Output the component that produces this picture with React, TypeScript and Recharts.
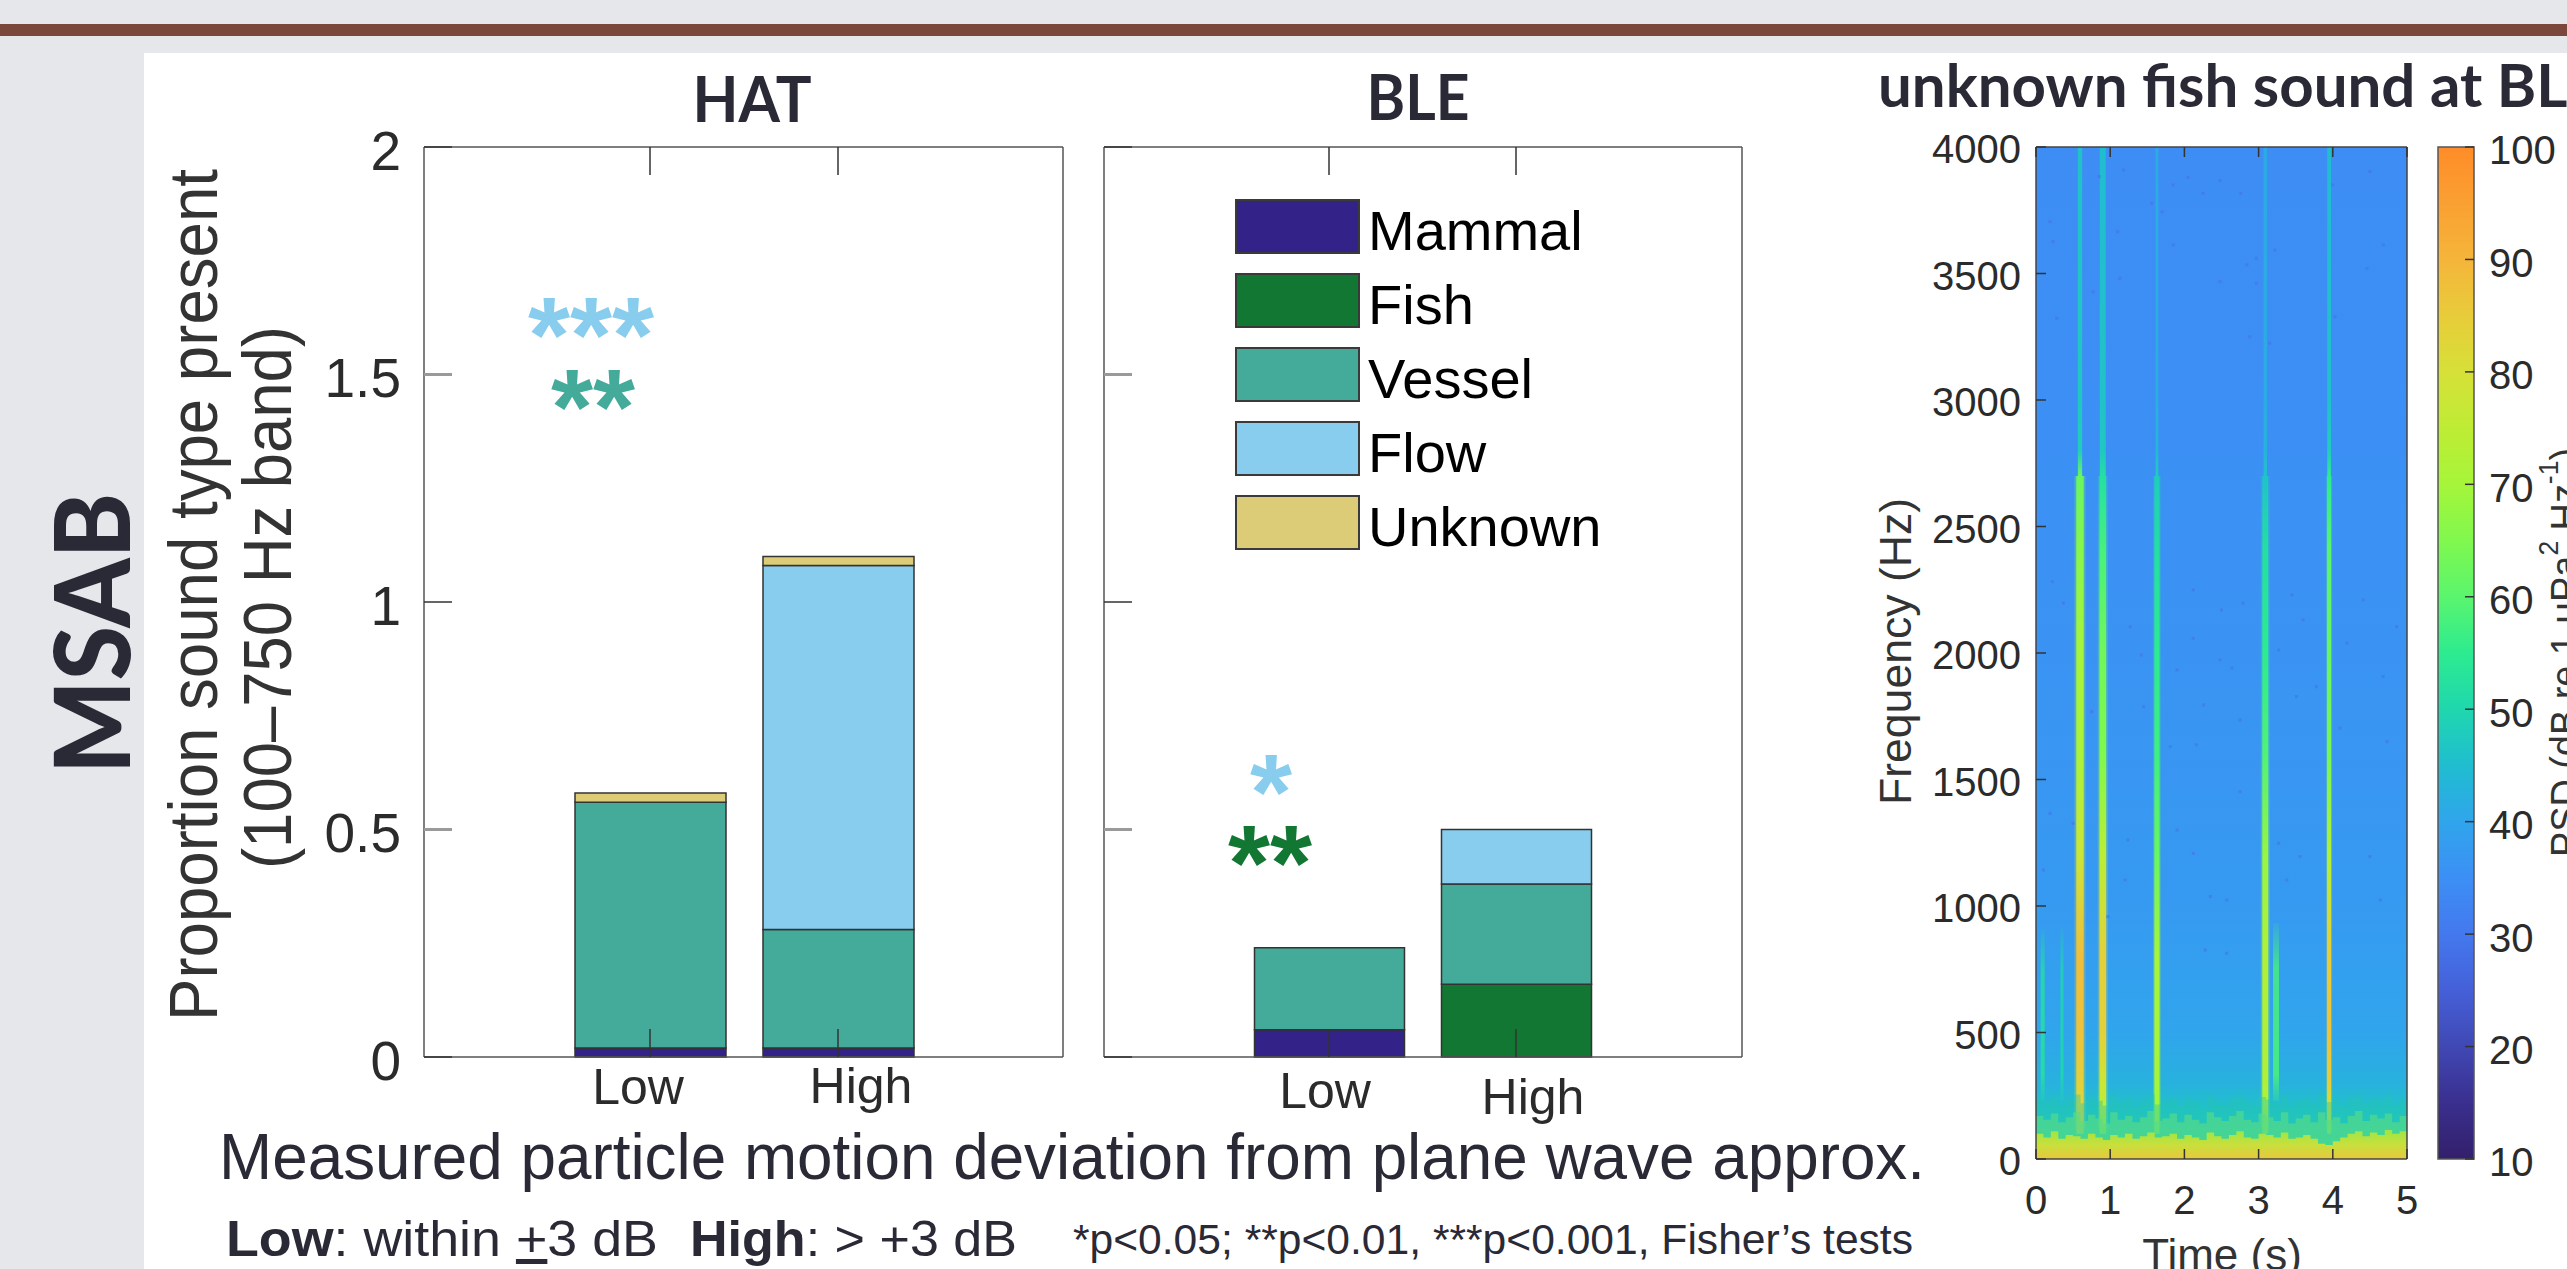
import React from 'react';
import { Area, Bar, BarChart, ComposedChart, Legend, ReferenceArea, Scatter, XAxis, YAxis } from 'recharts';

// stacked bars (proportion of sound type present)
const categories = ['Low', 'High'];
const seriesNames = ['Mammal', 'Fish', 'Vessel', 'Flow', 'Unknown'];
const seriesColors = ['#332288', '#117733', '#44AA99', '#88CCEE', '#DDCC77'];
const hatMammal = [0.02, 0.02];
const hatFish = [0, 0];
const hatVessel = [0.54, 0.26];
const hatFlow = [0, 0.8];
const hatUnknown = [0.02, 0.02];
const bleMammal = [0.06, 0];
const bleFish = [0, 0.16];
const bleVessel = [0.18, 0.22];
const bleFlow = [0, 0.12];
const bleUnknown = [0, 0];
const proportionTicks = [0, 0.5, 1, 1.5, 2];
const fadedTicks = [0.5, 1.5];

// spectrogram
const timeTicks = [0, 1, 2, 3, 4, 5];
const freqTicks = [0, 500, 1000, 1500, 2000, 2500, 3000, 3500, 4000];
const psdTicks = [10, 20, 30, 40, 50, 60, 70, 80, 90, 100];
const cmapDb = [10, 15, 20, 25, 30, 35, 40, 45, 50, 55, 60, 65, 70, 75, 80, 85, 90, 95, 100];
const cmapColors = ['#33206B', '#3A2F8E', '#4048B4', '#4560D8', '#4478EE', '#3C8FF5', '#30A5EC', '#20BDD0', '#1FD7AE', '#2DEB90', '#5AF56E', '#80F84E', '#A6F53A', '#BEEC34', '#D6E038', '#E8CC3A', '#F5B53A', '#FAA032', '#FF8C28'];
const backgroundFreq = [0, 200, 300, 500, 1000, 2000, 3000, 4000];
const backgroundDb = [50, 46, 42.5, 40, 37.5, 36, 35, 34.5];
const floorTimes = [0, 0.1, 0.2, 0.3, 0.4, 0.5, 0.6, 0.7, 0.8, 0.9, 1, 1.1, 1.2, 1.3, 1.4, 1.5, 1.6, 1.7, 1.8, 1.9, 2, 2.1, 2.2, 2.3, 2.4, 2.5, 2.6, 2.7, 2.8, 2.9, 3, 3.1, 3.2, 3.3, 3.4, 3.5, 3.6, 3.7, 3.8, 3.9, 4, 4.1, 4.2, 4.3, 4.4, 4.5, 4.6, 4.7, 4.8, 4.9, 5];
const floorTeal = [240, 225, 250, 210, 235, 255, 220, 245, 230, 210, 250, 225, 240, 205, 235, 255, 215, 230, 245, 210, 240, 225, 205, 250, 230, 215, 240, 255, 225, 210, 245, 235, 220, 250, 205, 230, 240, 215, 250, 225, 235, 210, 245, 255, 220, 240, 230, 250, 215, 235, 245];
const floorGreen = [170, 155, 180, 145, 165, 185, 150, 175, 160, 140, 185, 155, 170, 145, 165, 190, 150, 160, 180, 145, 175, 155, 140, 185, 165, 150, 170, 190, 155, 145, 180, 165, 150, 185, 140, 160, 175, 145, 185, 155, 165, 140, 170, 190, 150, 175, 160, 180, 145, 170, 185];
const floorYellow = [100, 85, 110, 80, 95, 90, 80, 100, 85, 75, 95, 85, 100, 80, 90, 105, 85, 90, 100, 80, 95, 85, 75, 105, 90, 80, 95, 110, 85, 80, 100, 95, 85, 105, 80, 85, 95, 80, 60, 55, 70, 85, 100, 110, 90, 105, 95, 115, 100, 110, 115];
const streakTimes = [0.593, 0.9, 1.63, 3.09, 3.95];
const streakWidths = [0.1, 0.09, 0.07, 0.08, 0.055];
const streakUpperWidths = [0.058, 0.08, 0.036, 0.045, 0.05];
const streakFreq = [100, 300, 500, 800, 1200, 1600, 2000, 2400, 2700, 2800, 3000, 4000];
const streakDb = [
  [80, 84, 87, 88, 78, 71, 70, 66, 62, 48, 47, 46],
  [70, 78, 84, 84, 74, 65, 63, 58, 52, 47, 46, 45],
  [68, 70, 70, 70, 62, 57, 55, 52, 48, 44, 42, 41.5],
  [70, 72, 72, 72, 68, 59, 55, 52, 46, 43, 41.5, 41],
  [70, 85, 87, 85, 72, 64, 62, 60, 55, 48, 46, 45],
];
// short faint calls near the start and after the 3 s call
const faintTimes = [0.09, 0.35, 3.235];
const faintWidths = [0.054, 0.04, 0.08];
const faintTop = [905, 915, 932];
const faintDb = [52, 50, 58];
// dark specks in the background noise
const speckTimes = [0.85, 2.48, 1.85, 2.25, 2.05, 1.7, 2.76, 4, 1.56, 1.1, 1.85, 3.22, 2.84, 2.97, 2.48, 2.97, 1.13, 0.77, 0.28, 2.88, 3.15, 4.03, 4.46, 4.68, 0.23, 0.19, 1.18, 4.5, 0.22, 2.5, 2.12, 2.64, 3.6, 3.45, 3.27, 4.73, 2.79, 1.45, 2.26, 3.51, 0.75, 4.1, 2.16, 1.42, 2.12, 4.68, 4.19, 0.37, 1.27, 1.9, 2.48, 2.75, 3.78, 4.41, 4.86, 1.81, 1.2, 2.12, 0.1, 1.24, 0.5, 3.38, 4.64, 2.57, 2.35, 3.56, 3.27, 4.5, 2.75, 0.19, 0.97, 2.28, 2.57, 1.9];
const speckFreq = [3883, 3867, 3850, 3817, 3880, 3744, 3817, 3850, 3777, 3665, 3613, 3593, 3534, 3560, 3468, 3461, 3481, 3428, 3323, 3250, 3224, 3329, 3520, 3613, 3626, 3705, 3909, 3903, 2282, 2170, 2058, 1940, 2131, 2230, 2012, 1650, 2197, 1788, 1795, 1828, 1768, 1703, 1637, 1992, 2249, 1907, 2039, 2197, 2104, 1933, 1973, 1735, 1867, 2210, 2104, 1630, 1103, 1208, 1142, 1261, 1327, 1103, 1024, 1024, 1037, 1195, 1248, 1195, 1452, 1366, 958, 826, 813, 1300];

const SANS = '"Liberation Sans", Arial, sans-serif';
const TITLE = 'Lato, "Open Sans", sans-serif';
const DARK = '#2A2A36';
const AXIS = '#555';

const hatData = categories.map((c, i) => ({
  category: c, Mammal: hatMammal[i], Fish: hatFish[i], Vessel: hatVessel[i], Flow: hatFlow[i], Unknown: hatUnknown[i],
}));
const bleData = categories.map((c, i) => ({
  category: c, Mammal: bleMammal[i], Fish: bleFish[i], Vessel: bleVessel[i], Flow: bleFlow[i], Unknown: bleUnknown[i],
}));
const spectroData = floorTimes.map((t, i) => ({
  t, sea: 4000, teal: floorTeal[i], green: floorGreen[i], yellow: floorYellow[i],
}));
const speckData = speckTimes.map((t, i) => ({ t, f: speckFreq[i] }));
const colorbarData = [{ name: 'PSD', range: [10, 100] }];

const parseHex = (h: string) => [1, 3, 5].map(i => parseInt(h.slice(i, i + 2), 16));
// colour lookup in the colorbar table
const dbColor = (db: number) => {
  let i = 0;
  while (i < cmapDb.length - 2 && db > cmapDb[i + 1]) i++;
  const f = Math.min(1, Math.max(0, (db - cmapDb[i]) / (cmapDb[i + 1] - cmapDb[i])));
  const a = parseHex(cmapColors[i]);
  const b = parseHex(cmapColors[i + 1]);
  return `rgb(${a.map((v, k) => Math.round(v + (b[k] - v) * f)).join(',')})`;
};

type TickOpts = {
  side: 'left' | 'right' | 'top' | 'bottom';
  len: number;
  fontSize?: number;
  gap?: number;
  dy?: number;
  shift?: Record<string, [number, number]>;
  faded?: number[];
};

// inward MATLAB style tick, optional label outside the box
const makeTick = ({ side, len, fontSize, gap = 0, dy = 0, shift, faded }: TickOpts) => (p: any) => {
  const { x, y, payload } = p;
  const value = payload.value;
  const isFaded = faded && faded.includes(value);
  const stroke = isFaded ? '#9a9a9a' : '#333';
  const sw = isFaded ? 3 : 1.5;
  const [sx, sy] = shift && shift[value] ? shift[value] : [0, 0];
  let end = { x2: x, y2: y };
  if (side === 'left') end = { x2: x + len, y2: y };
  if (side === 'right') end = { x2: x - len, y2: y };
  if (side === 'top') end = { x2: x, y2: y + len };
  if (side === 'bottom') end = { x2: x, y2: y - len };
  let label = null;
  if (fontSize) {
    const common = { fontFamily: SANS, fontSize, fill: '#2b2b2b' };
    if (side === 'left') label = <text x={x - gap} y={y + fontSize * 0.36 + dy} textAnchor="end" {...common}>{value}</text>;
    if (side === 'right') label = <text x={x + gap} y={y + fontSize * 0.36 + dy} textAnchor="start" {...common}>{value}</text>;
    if (side === 'bottom') label = <text x={x + sx} y={y + gap + sy} textAnchor="middle" {...common}>{value}</text>;
  }
  return (
    <g>
      <line x1={x} y1={y} {...end} stroke={stroke} strokeWidth={sw} />
      {label}
    </g>
  );
};

const axisLine = { stroke: AXIS, strokeWidth: 1.5 };

const LegendBox = () => (
  <div style={{ display: 'flex', flexDirection: 'column', gap: 19 }}>
    {seriesNames.map((n, i) => (
      <div key={n} style={{ display: 'flex', height: 55, alignItems: 'flex-start' }}>
        <div style={{ width: 125, height: 55, boxSizing: 'border-box', background: seriesColors[i], border: '2px solid #3a3a3a' }} />
        <div style={{ marginLeft: 8, fontFamily: SANS, fontSize: 56, lineHeight: '55px', color: '#000', position: 'relative', top: 4 }}>{n}</div>
      </div>
    ))}
  </div>
);

type PanelProps = {
  data: any[];
  left: number;
  plotLeft: number;
  plotRight: number;
  pad: [number, number];
  barSize: number;
  yLabels: boolean;
  shift: Record<string, [number, number]>;
  legend?: boolean;
};

const TOP = 100;
const PLOT_TOP = 147;
const PLOT_BOTTOM = 1057;

const BarPanel = ({ data, left, plotLeft, plotRight, pad, barSize, yLabels, shift, legend }: PanelProps) => {
  const width = plotRight + 10 - left;
  const height = 1140 - TOP;
  return (
    <div style={{ position: 'absolute', left, top: TOP }}>
      <BarChart
        width={width}
        height={height}
        data={data}
        barSize={barSize}
        margin={{ top: PLOT_TOP - TOP - 1, right: 9, bottom: TOP + height - PLOT_BOTTOM - 1, left: plotLeft - left - 1 }}
      >
        {seriesNames.map((n, i) => (
          <Bar key={n} dataKey={n} stackId="a" fill={seriesColors[i]} stroke="#333" strokeWidth={1.5} isAnimationActive={false} />
        ))}
        <XAxis dataKey="category" height={1} interval={0} padding={{ left: pad[0], right: pad[1] }} axisLine={axisLine} tickLine={false} tickSize={0} tickMargin={0}
          tick={makeTick({ side: 'bottom', len: 28, fontSize: 50, shift })} />
        <XAxis dataKey="category" xAxisId="top" orientation="top" height={1} interval={0} padding={{ left: pad[0], right: pad[1] }} axisLine={axisLine} tickLine={false} tickSize={0} tickMargin={0}
          tick={makeTick({ side: 'top', len: 28 })} />
        <YAxis width={1} domain={[0, 2]} ticks={proportionTicks} interval={0} axisLine={axisLine} tickLine={false} tickSize={0} tickMargin={0}
          tick={makeTick({ side: 'left', len: 28, fontSize: yLabels ? 55 : undefined, gap: 23, dy: 3, faded: fadedTicks })} />
        <YAxis yAxisId="right" orientation="right" width={1} domain={[0, 2]} ticks={proportionTicks} interval={0} axisLine={axisLine} tickLine={false} tickSize={0} tickMargin={0}
          tick={makeTick({ side: 'right', len: 28, faded: fadedTicks })} />
        {legend && (
          <Legend
            layout="vertical"
            align="center"
            verticalAlign="middle"
            content={LegendBox}
            wrapperStyle={{ position: 'absolute', left: 1235 - left, top: 199 - TOP, width: 380, height: 360, margin: 0 }}
          />
        )}
      </BarChart>
    </div>
  );
};

const stopsFor = (lo: number, hi: number, levels: number[]) =>
  streakFreq
    .map((f, i) => ({ f, db: levels[i] }))
    .filter(s => s.f >= lo && s.f <= hi)
    .reverse()
    .map(s => <stop key={s.f} offset={(hi - s.f) / (hi - lo)} stopColor={dbColor(s.db)} />);

const Speck = (p: any) => <rect x={p.cx - 1.5} y={p.cy - 1.5} width={3} height={3} fill={dbColor(30)} fillOpacity={0.75} />;

const Spectrogram = () => {
  const left = 1930;
  const plotLeft = 2036;
  const plotRight = 2407;
  const bottom = 1159;
  const height = 1230 - TOP;
  const tickCommon = { interval: 0 as const, tickLine: false, tickSize: 0, tickMargin: 0, axisLine: { stroke: '#444', strokeWidth: 1.5 } };
  return (
    <div style={{ position: 'absolute', left, top: TOP }}>
      <ComposedChart
        width={plotRight + 20 - left}
        height={height}
        data={spectroData}
        margin={{ top: PLOT_TOP - TOP - 1, right: 19, bottom: TOP + height - bottom - 1, left: plotLeft - left - 1 }}
      >
        <defs>
          <linearGradient id="seaFill" x1="0" y1="0" x2="0" y2="1">
            {[...backgroundFreq].reverse().map((f, i) => (
              <stop key={f} offset={1 - f / 4000} stopColor={dbColor(backgroundDb[backgroundDb.length - 1 - i])} />
            ))}
          </linearGradient>
          <linearGradient id="yellowFill" x1="0" y1="0" x2="0" y2="1">
            <stop offset={0} stopColor="#9CE646" />
            <stop offset={0.5} stopColor="#C8E03C" />
            <stop offset={1} stopColor="#E8C83C" />
          </linearGradient>
          {streakTimes.map((_, i) => (
            <React.Fragment key={i}>
              <linearGradient id={`streakLow${i}`} x1="0" y1="0" x2="0" y2="1">{stopsFor(100, 2700, streakDb[i])}</linearGradient>
              <linearGradient id={`streakHigh${i}`} x1="0" y1="0" x2="0" y2="1">{stopsFor(2700, 4000, streakDb[i])}</linearGradient>
            </React.Fragment>
          ))}
          {faintDb.map((db, i) => (
            <linearGradient key={i} id={`faint${i}`} x1="0" y1="0" x2="0" y2="1">
              <stop offset={0} stopColor={dbColor(db)} stopOpacity={0.1} />
              <stop offset={0.25} stopColor={dbColor(db)} stopOpacity={0.8} />
              <stop offset={0.85} stopColor={dbColor(db)} stopOpacity={0.9} />
              <stop offset={1} stopColor={dbColor(db)} stopOpacity={0.2} />
            </linearGradient>
          ))}
        </defs>
        <Area dataKey="sea" type="linear" fill="url(#seaFill)" fillOpacity={1} stroke="none" baseValue={0} dot={false} activeDot={false} isAnimationActive={false} />
        <Scatter data={speckData} dataKey="f" shape={Speck} isAnimationActive={false} />
        {faintTimes.map((t, i) => (
          <ReferenceArea key={`f${i}`} x1={t - faintWidths[i] / 2} x2={t + faintWidths[i] / 2} y1={230} y2={faintTop[i]} fill={`url(#faint${i})`} fillOpacity={1} stroke="none" />
        ))}
        {streakTimes.map((t, i) => (
          <ReferenceArea key={`h${i}`} x1={t - streakUpperWidths[i] / 2} x2={t + streakUpperWidths[i] / 2} y1={2700} y2={4000} fill={`url(#streakHigh${i})`} fillOpacity={1} stroke="none" />
        ))}
        {streakTimes.map((t, i) => (
          <ReferenceArea key={`g${i}`} x1={t - streakWidths[i] * 0.75} x2={t + streakWidths[i] * 0.75} y1={120} y2={2700} fill={`url(#streakLow${i})`} fillOpacity={0.28} stroke="none" />
        ))}
        {streakTimes.map((t, i) => (
          <ReferenceArea key={`l${i}`} x1={t - streakWidths[i] / 2} x2={t + streakWidths[i] / 2} y1={100} y2={2700} fill={`url(#streakLow${i})`} fillOpacity={1} stroke="none" />
        ))}
        <Area dataKey="teal" type="stepAfter" fill="#26C4B2" fillOpacity={0.4} stroke="none" baseValue={0} dot={false} activeDot={false} isAnimationActive={false} />
        <Area dataKey="green" type="stepAfter" fill="#58DC84" fillOpacity={0.65} stroke="none" baseValue={0} dot={false} activeDot={false} isAnimationActive={false} />
        <Area dataKey="yellow" type="stepAfter" fill="url(#yellowFill)" fillOpacity={1} stroke="none" baseValue={0} dot={false} activeDot={false} isAnimationActive={false} />
        <XAxis dataKey="t" type="number" domain={[0, 5]} ticks={timeTicks} height={1} {...tickCommon}
          tick={makeTick({ side: 'bottom', len: 10, fontSize: 40, gap: 55 })} />
        <XAxis dataKey="t" xAxisId="top" type="number" orientation="top" domain={[0, 5]} ticks={timeTicks} height={1} {...tickCommon}
          tick={makeTick({ side: 'top', len: 10 })} />
        <YAxis width={1} type="number" domain={[0, 4000]} ticks={freqTicks} {...tickCommon}
          tick={makeTick({ side: 'left', len: 10, fontSize: 40, gap: 15, dy: 2 })} />
        <YAxis yAxisId="right" orientation="right" width={1} type="number" domain={[0, 4000]} ticks={freqTicks} {...tickCommon}
          tick={makeTick({ side: 'right', len: 10 })} />
      </ComposedChart>
    </div>
  );
};

const Colorbar = () => {
  const left = 2430;
  const height = 1190 - TOP;
  return (
    <div style={{ position: 'absolute', left, top: TOP }}>
      <BarChart
        width={137}
        height={height}
        data={colorbarData}
        barCategoryGap={0}
        margin={{ top: PLOT_TOP - TOP, right: 92, bottom: TOP + height - 1159, left: 8 }}
      >
        <defs>
          <linearGradient id="psdFill" x1="0" y1="0" x2="0" y2="1">
            {[...cmapDb].reverse().map((db, i) => (
              <stop key={db} offset={1 - (db - 10) / 90} stopColor={cmapColors[cmapColors.length - 1 - i]} />
            ))}
          </linearGradient>
        </defs>
        <Bar dataKey="range" fill="url(#psdFill)" stroke="#555" strokeWidth={1.5} isAnimationActive={false} />
        <XAxis dataKey="name" hide />
        <YAxis orientation="right" width={1} domain={[10, 100]} ticks={psdTicks} interval={0} axisLine={false} tickLine={false} tickSize={0} tickMargin={0}
          tick={makeTick({ side: 'right', len: 9, fontSize: 40, gap: 15, dy: 3 })} />
      </BarChart>
    </div>
  );
};

const rotated = (x: number, y: number) => `rotate(-90 ${x} ${y})`;
// rotated, and a bit wider across the line than along it
const stretched = (x: number, y: number, k: number) => `translate(${x} ${y}) rotate(-90) scale(1 ${k}) translate(${-x} ${-y})`;

const Annotations = () => (
  <svg width={2567} height={1269} style={{ position: 'absolute', left: 0, top: 0, pointerEvents: 'none' }}>
    <g fontFamily={TITLE} fontWeight={700} fill={DARK}>
      <text x={752} y={122} fontSize={64} textAnchor="middle" textLength={119} lengthAdjust="spacingAndGlyphs">HAT</text>
      <text x={1418} y={120} fontSize={64} textAnchor="middle" textLength={103} lengthAdjust="spacingAndGlyphs">BLE</text>
      <text x={1878} y={107} fontSize={60} textLength={724} lengthAdjust="spacingAndGlyphs">unknown fish sound at BLE</text>
      <text x={130} y={774} fontSize={104} fontWeight={900} transform={rotated(130, 774)} textLength={281} lengthAdjust="spacingAndGlyphs">MSAB</text>
    </g>
    <g fontFamily={SANS} fill="#333">
      <text x={217} y={1021} fontSize={62} transform={stretched(217, 1021, 1.1)} textLength={852} lengthAdjust="spacingAndGlyphs">Proportion sound type present</text>
      <text x={291} y={869} fontSize={62} transform={stretched(291, 869, 1.1)} textLength={543} lengthAdjust="spacingAndGlyphs">(100–750 Hz band)</text>
      <text x={1911} y={805} fontSize={44} transform={rotated(1911, 805)} textLength={307} lengthAdjust="spacingAndGlyphs">Frequency (Hz)</text>
      <text x={2222} y={1270} fontSize={44} textAnchor="middle">Time (s)</text>
      <text x={2579} y={857} fontSize={40} transform={rotated(2579, 857)} textLength={409} lengthAdjust="spacingAndGlyphs">
        PSD (dB re 1 μPa<tspan fontSize={28} dy={-21}>2</tspan><tspan dy={21}> Hz</tspan><tspan fontSize={28} dy={-21}>-1</tspan><tspan dy={21}>)</tspan>
      </text>
    </g>
    <g fontFamily={SANS} fill={DARK}>
      <text x={219} y={1179} fontSize={64} textLength={1706} lengthAdjust="spacingAndGlyphs">Measured particle motion deviation from plane wave approx.</text>
      <text x={226} y={1256} fontSize={50} textLength={432} lengthAdjust="spacingAndGlyphs">
        <tspan fontWeight={700}>Low</tspan>: within <tspan textDecoration="underline">+</tspan>3 dB
      </text>
      <text x={690} y={1256} fontSize={50} textLength={327} lengthAdjust="spacingAndGlyphs">
        <tspan fontWeight={700}>High</tspan>: {'>'} +3 dB
      </text>
      <text x={1073} y={1254} fontSize={42} textLength={840} lengthAdjust="spacingAndGlyphs">*p{'<'}0.05; **p{'<'}0.01, ***p{'<'}0.001, Fisher’s tests</text>
    </g>
    <g fontFamily={SANS} fontWeight={700} fontSize={108} textAnchor="middle">
      <text x={591} y={372} fill={seriesColors[3]}>***</text>
      <text x={593} y={444} fill={seriesColors[2]}>**</text>
      <text x={1271} y={829} fill={seriesColors[3]}>*</text>
      <text x={1270} y={900} fill={seriesColors[1]}>**</text>
    </g>
  </svg>
);

const App = () => (
  <div style={{ position: 'absolute', left: 0, top: 0, width: 2567, height: 1269, overflow: 'hidden', background: '#E6E7EB' }}>
    <div style={{ position: 'absolute', left: 0, top: 24, width: 2567, height: 12, background: '#7B463C' }} />
    <div style={{ position: 'absolute', left: 144, top: 53, width: 2423, height: 1216, background: '#fff' }} />
    <BarPanel data={hatData} left={300} plotLeft={424} plotRight={1063} pad={[132, 131]} barSize={151} yLabels shift={{ Low: [-12, 47], High: [23, 46] }} />
    <BarPanel data={bleData} left={1090} plotLeft={1104} plotRight={1742} pad={[131.5, 132.5]} barSize={150} yLabels={false} shift={{ Low: [-4, 51], High: [17, 57] }} legend />
    <Spectrogram />
    <Colorbar />
    <Annotations />
  </div>
);

export default App;
